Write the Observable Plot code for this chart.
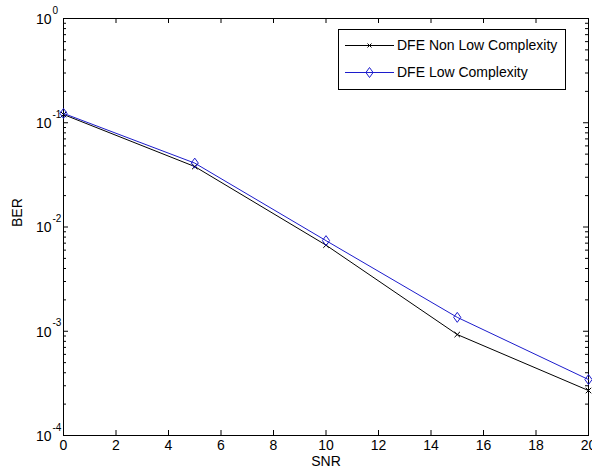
<!DOCTYPE html>
<html>
<head>
<meta charset="utf-8">
<script src="https://cdn.jsdelivr.net/npm/d3@7"></script>
<script src="https://cdn.jsdelivr.net/npm/@observablehq/plot@0.6"></script>
<style>
  html, body { margin: 0; padding: 0; background: #fff; }
  #chart svg { display: block; }
</style>
</head>
<body>
<div id="chart"></div>
<script>
// ---- data ----
const snr = [0, 5, 10, 15, 20];
const berNonLow = [0.12, 0.038, 0.0067, 0.00093, 0.00027];
const berLow = [0.123, 0.041, 0.0074, 0.00136, 0.000344];
const seriesNames = ["DFE Non Low Complexity", "DFE Low Complexity"];
const xTicks = [0, 2, 4, 6, 8, 10, 12, 14, 16, 18, 20];
const yDecades = [1e-4, 1e-3, 1e-2, 1e-1, 1];
const yExponents = ["-4", "-3", "-2", "-1", "0"];
const xLabel = "SNR";
const yLabel = "BER";

// derived tables
const nonLow = snr.map((s, i) => ({snr: s, ber: berNonLow[i]}));
const low = snr.map((s, i) => ({snr: s, ber: berLow[i]}));
const yMinor = [];
for (const d of yDecades.slice(0, -1)) for (let k = 2; k <= 9; k++) yMinor.push(d * k);
const decadeLabels = yDecades.map((d, i) => ({v: d, e: yExponents[i]}));

const W = 592, H = 474;
const mL = 63, mR = 4, mT = 18, mB = 39;
const innerW = W - mL - mR, innerH = H - mT - mB;
const blue = "#1c1ccc";
const font = "Liberation Sans, Arial, sans-serif";

const diamond = {
  draw(ctx, size) {
    const w = 3.6, h = 5;
    ctx.moveTo(0, -h); ctx.lineTo(w, 0); ctx.lineTo(0, h); ctx.lineTo(-w, 0); ctx.closePath();
  }
};

const chart = Plot.plot({
  width: W, height: H,
  marginLeft: mL, marginRight: mR, marginTop: mT, marginBottom: mB,
  style: {fontFamily: font, fontSize: "14px", background: "#fff", color: "#000"},
  x: {domain: [0, 20], axis: null},
  y: {type: "log", domain: [1e-4, 1], axis: null},
  marks: [
    // ticks (inward, all sides)
    Plot.tickX(xTicks, {x: d => d, insetTop: innerH - 5, stroke: "#000"}),
    Plot.tickX(xTicks, {x: d => d, insetBottom: innerH - 5, stroke: "#000"}),
    Plot.tickY(yDecades, {y: d => d, insetRight: innerW - 5, stroke: "#000"}),
    Plot.tickY(yDecades, {y: d => d, insetLeft: innerW - 5, stroke: "#000"}),
    Plot.tickY(yMinor, {y: d => d, insetRight: innerW - 3, stroke: "#000"}),
    Plot.tickY(yMinor, {y: d => d, insetLeft: innerW - 3, stroke: "#000"}),
    Plot.frame({stroke: "#000"}),
    // tick labels
    Plot.text(xTicks, {x: d => d, frameAnchor: "bottom", lineAnchor: "top", dy: 5, text: d => String(d), fontSize: 14}),
    Plot.text(decadeLabels, {y: "v", frameAnchor: "left", textAnchor: "end", dx: -12, dy: 1, text: () => "10", fontSize: 14}),
    Plot.text(decadeLabels, {y: "v", frameAnchor: "left", textAnchor: "start", dx: -11, dy: -8, text: "e", fontSize: 10}),
    // axis labels
    Plot.text([xLabel], {frameAnchor: "bottom", lineAnchor: "top", dy: 21, text: d => d, fontSize: 14}),
    Plot.text([yLabel], {frameAnchor: "left", dx: -46, rotate: -90, text: d => d, fontSize: 14}),
    // data
    Plot.line(nonLow, {x: "snr", y: "ber", stroke: "#000", strokeWidth: 1}),
    Plot.dot(nonLow, {x: "snr", y: "ber", symbol: "times", r: 2.6, stroke: "#000", strokeWidth: 1}),
    Plot.line(low, {x: "snr", y: "ber", stroke: blue, strokeWidth: 1}),
    Plot.dot(low, {x: "snr", y: "ber", symbol: diamond, stroke: blue, fill: "none", strokeWidth: 1})
  ]
});

// legend box (MATLAB style, inside the axes, top-right)
const svg = d3.select(chart);
const lg = svg.append("g").attr("font-family", font).attr("font-size", 14).attr("text-anchor", "start");
lg.append("rect").attr("x", 338.5).attr("y", 29.5).attr("width", 227).attr("height", 60)
  .attr("fill", "#fff").attr("stroke", "#000");
const rows = [
  {y: 45.5, color: "#000", name: seriesNames[0], sym: "x"},
  {y: 72.5, color: blue, name: seriesNames[1], sym: "d"}
];
for (const r of rows) {
  lg.append("line").attr("x1", 345).attr("x2", 394).attr("y1", r.y).attr("y2", r.y).attr("stroke", r.color);
  if (r.sym === "x") {
    lg.append("path").attr("d", `M${369.5-2},${r.y-2}L${369.5+2},${r.y+2}M${369.5-2},${r.y+2}L${369.5+2},${r.y-2}`).attr("stroke", r.color);
  } else {
    lg.append("path").attr("d", `M369.5,${r.y-5}L373.1,${r.y}L369.5,${r.y+5}L365.9,${r.y}Z`).attr("stroke", r.color).attr("fill", "none");
  }
  lg.append("text").attr("x", 397).attr("y", r.y).attr("dy", "0.35em").attr("text-anchor", "start").attr("fill", "#000").text(r.name);
}

document.getElementById("chart").appendChild(chart);
</script>
</body>
</html>
